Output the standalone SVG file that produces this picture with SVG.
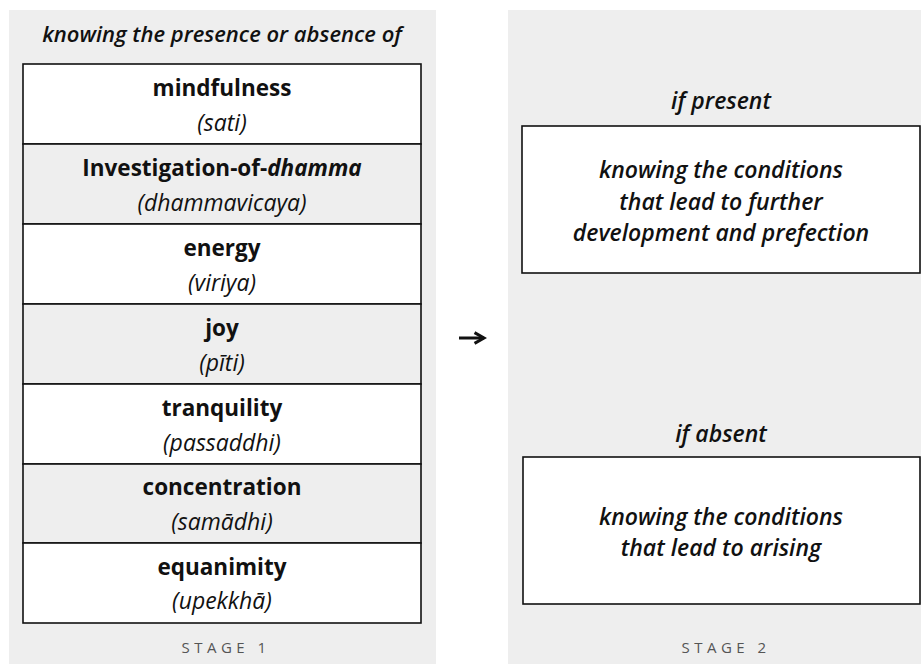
<svg xmlns="http://www.w3.org/2000/svg" width="921" height="664" viewBox="0 0 921 664">
<defs>
<style>
.panel{fill:#eeeeee;}
.w{fill:#ffffff;stroke:#111;stroke-width:1.6;}
.g{fill:#eeeeee;stroke:#111;stroke-width:1.6;}
.lbl{font-family:"Open Sans","Liberation Sans",sans-serif;font-weight:700;font-size:22.5px;fill:#111;text-anchor:middle;}
.sub{font-family:"Open Sans","Liberation Sans",sans-serif;font-style:italic;font-size:23px;fill:#111;text-anchor:middle;}
.it{font-family:"Open Sans","Liberation Sans",sans-serif;font-style:italic;font-weight:600;font-size:23px;fill:#111;text-anchor:middle;}
.tt{font-size:22px;}
.stage{font-family:"Open Sans","Liberation Sans",sans-serif;font-size:15px;letter-spacing:4.5px;fill:#555;text-anchor:middle;}
.conn{fill:none;stroke:#111;stroke-width:3;}
</style>
<marker id="ah" viewBox="0 0 10 10" refX="8" refY="5" markerWidth="4.5" markerHeight="4.5" orient="auto">
<path d="M1,1 L8,5 L1,9" fill="none" stroke="#111" stroke-width="2.2"/>
</marker>
</defs>
<rect x="0" y="0" width="921" height="664" fill="#ffffff"/>
<g id="stage1">
<rect class="panel" x="9" y="10" width="427" height="654"/>
<text class="it tt" x="222" y="42">knowing the presence or absence of</text>
<g id="mindfulness"><rect class="w" x="23" y="64" width="398" height="80"/><text class="lbl" x="222" y="96">mindfulness</text><text class="sub" x="222" y="131">(sati)</text></g>
<g id="investigation"><rect class="g" x="23" y="144" width="398" height="80"/><text class="lbl" x="222" y="176">Investigation-of-<tspan font-style="italic">dhamma</tspan></text><text class="sub" x="222" y="211">(dhammavicaya)</text></g>
<g id="energy"><rect class="w" x="23" y="224" width="398" height="80"/><text class="lbl" x="222" y="256">energy</text><text class="sub" x="222" y="291">(viriya)</text></g>
<g id="joy"><rect class="g" x="23" y="304" width="398" height="80"/><text class="lbl" x="222" y="336">joy</text><text class="sub" x="222" y="371">(pīti)</text></g>
<g id="tranquility"><rect class="w" x="23" y="384" width="398" height="80"/><text class="lbl" x="222" y="416">tranquility</text><text class="sub" x="222" y="451">(passaddhi)</text></g>
<g id="concentration"><rect class="g" x="23" y="464" width="398" height="79"/><text class="lbl" x="222" y="495">concentration</text><text class="sub" x="222" y="530">(samādhi)</text></g>
<g id="equanimity"><rect class="w" x="23" y="543" width="398" height="80"/><text class="lbl" x="222" y="575">equanimity</text><text class="sub" x="222" y="609">(upekkhā)</text></g>
<text class="stage" x="226" y="653">STAGE 1</text>
</g>
<g id="stage2">
<rect class="panel" x="508" y="10" width="413" height="654"/>
<g id="present">
<text class="it" x="721" y="109">if present</text>
<rect class="w" x="522" y="126" width="398" height="147"/>
<text class="it" x="721" y="178">knowing the conditions</text>
<text class="it" x="721" y="210">that lead to further</text>
<text class="it" x="721" y="241">development and prefection</text>
</g>
<g id="absent">
<text class="it" x="721" y="442">if absent</text>
<rect class="w" x="523" y="457" width="397" height="147"/>
<text class="it" x="721" y="525">knowing the conditions</text>
<text class="it" x="721" y="556">that lead to arising</text>
</g>
<text class="stage" x="726" y="653">STAGE 2</text>
</g>
<g id="connectors">
<path class="conn" d="M459,338 L484,338" marker-end="url(#ah)"/>
</g>
</svg>
